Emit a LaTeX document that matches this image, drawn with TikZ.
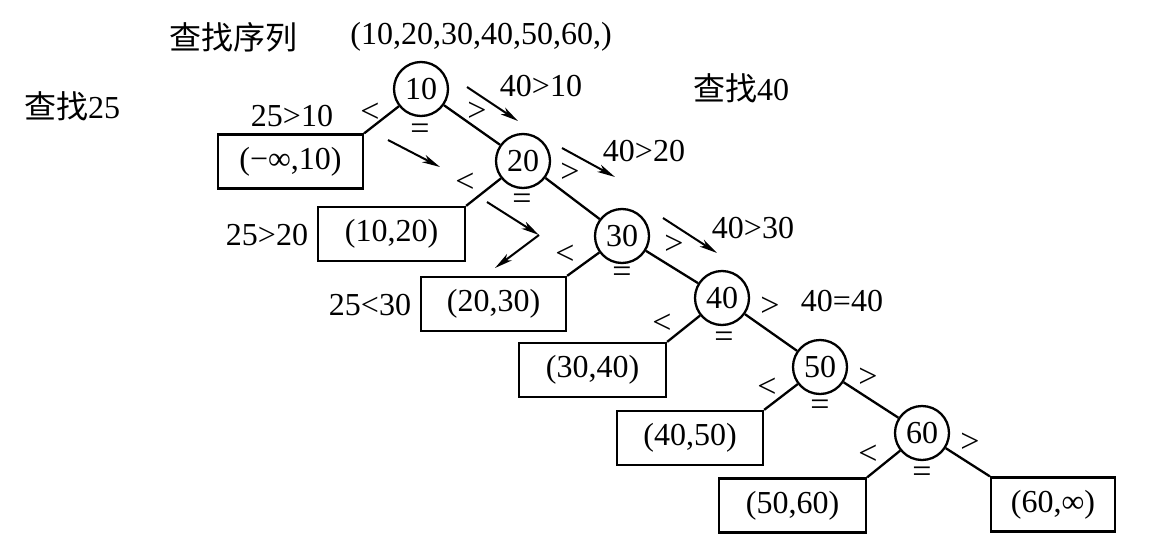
\documentclass[tikz,border=0pt]{standalone}
\usepackage{fontspec}
\setmainfont{Liberation Serif}
\newfontfamily\cjk{Noto Sans CJK SC}
\usetikzlibrary{arrows.meta}
\begin{document}
\begin{tikzpicture}[x=1pt,y=-1pt,
  every node/.style={font=\fontsize{32}{38}\selectfont, inner sep=0pt},
  keynode/.style={draw, circle, line width=2.3pt, minimum size=54pt},
  ivbox/.style={draw, rectangle, line width=2.3pt, minimum height=54pt},
  treeedge/.style={line width=2.3pt},
  srch/.style={line width=2pt, -{Stealth[length=18pt,width=8pt,inset=5pt]}},
  rel/.style={font=\fontsize{34}{40}\selectfont}]
\useasboundingbox (0,0) rectangle (1151,557);
% key circles
\node[keynode] (c10) at (421,89) {10};
\node[keynode] (c20) at (523,161) {20};
\node[keynode] (c30) at (622,236) {30};
\node[keynode] (c40) at (722,298) {40};
\node[keynode] (c50) at (820,367) {50};
\node[keynode] (c60) at (922,433) {60};
% interval boxes
\node[ivbox, minimum width=145pt] (b0) at (290.5,161.5) {(−∞,10)};
\node[ivbox, minimum width=147pt] (b1) at (391.5,234) {(10,20)};
\node[ivbox, minimum width=145pt] (b2) at (493.5,304) {(20,30)};
\node[ivbox, minimum width=147pt] (b3) at (592.5,370) {(30,40)};
\node[ivbox, minimum width=146pt] (b4) at (690,438) {(40,50)};
\node[ivbox, minimum width=147pt] (b5) at (792.5,505.5) {(50,60)};
\node[ivbox, minimum width=124pt] (b6) at (1053,504.5) {(60,∞)};
% tree edges
\draw[treeedge] (c10) -- (b0.north east);
\draw[treeedge] (c10) -- (c20);
\draw[treeedge] (c20) -- (b1.north east);
\draw[treeedge] (c20) -- (c30);
\draw[treeedge] (c30) -- (b2.north east);
\draw[treeedge] (c30) -- (c40);
\draw[treeedge] (c40) -- (b3.north east);
\draw[treeedge] (c40) -- (c50);
\draw[treeedge] (c50) -- (b4.north east);
\draw[treeedge] (c50) -- (c60);
\draw[treeedge] (c60) -- (b5.north east);
\draw[treeedge] (c60) -- (b6.north west);
% relation marks
\node[rel] (lt1) at (370,113) {<};
\node[rel] (lt2) at (465,183) {<};
\node[rel] (lt3) at (565,255) {<};
\node[rel] (lt4) at (662,324) {<};
\node[rel] (lt5) at (767,388) {<};
\node[rel] (lt6) at (868,455) {<};
\node[rel] (gt1) at (477,112) {>};
\node[rel] (gt2) at (570,173) {>};
\node[rel] (gt3) at (674,245) {>};
\node[rel] (gt4) at (770,307) {>};
\node[rel] (gt5) at (868,378) {>};
\node[rel] (gt6) at (970,443) {>};
\node[rel] (eq1) at (420,132) {=};
\node[rel] (eq2) at (522,202) {=};
\node[rel] (eq3) at (622,275) {=};
\node[rel] (eq4) at (724,340) {=};
\node[rel] (eq5) at (820,408) {=};
\node[rel] (eq6) at (922,475) {=};
% titles
\node (t1) at (233,37) {\cjk 查找序列};
\node (t2) at (481,37) {(10,20,30,40,50,60,)};
\node (t3) at (72,106) {{\cjk 查找}25};
\node (t4) at (741,88) {{\cjk 查找}40};
% comparison labels
\node (s1) at (292,116) {25>10};
\node (s2) at (267,235) {25>20};
\node (s3) at (370,305) {25<30};
\node (f1) at (541,86) {40>10};
\node (f2) at (644,151) {40>20};
\node (f3) at (753,228) {40>30};
\node (f4) at (842,301) {40=40};
% search arrows
\coordinate (a1s) at (467,87);  \coordinate (a1e) at (518,121);
\coordinate (a2s) at (562,148); \coordinate (a2e) at (615,177);
\coordinate (a3s) at (663,218); \coordinate (a3e) at (717,253);
\coordinate (l1s) at (388,140); \coordinate (l1e) at (440,167);
\coordinate (l2s) at (487,202); \coordinate (l2v) at (539,235);
\coordinate (l2e) at (495,268);
\draw[srch] (a1s) -- (a1e);
\draw[srch] (a2s) -- (a2e);
\draw[srch] (a3s) -- (a3e);
\draw[srch] (l1s) -- (l1e);
\draw[srch] (l2s) -- (l2v);
\draw[srch] (l2v) -- (l2e);
\end{tikzpicture}
\end{document}
